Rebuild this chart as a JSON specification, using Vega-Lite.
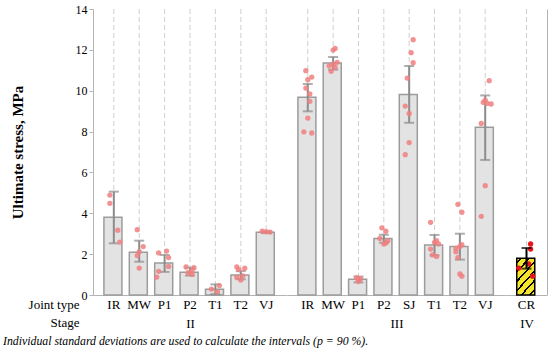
{
  "$schema": "https://vega.github.io/schema/vega-lite/v6.json",
  "padding": {"left": 3, "top": 3, "right": 2, "bottom": 0},
  "spacing": 0,
  "title": {"text": "Individual standard deviations are used to calculate the intervals (p = 90 %).", "orient": "bottom", "anchor": "start", "font": "Liberation Serif", "fontSize": 11.8, "fontStyle": "italic", "fontWeight": "normal", "color": "#000", "offset": 6, "dx": -7},
  "datasets": {
    "bars": [
      {"stage": "II", "joint": "IR", "mean": 3.80, "lo": 2.53, "hi": 5.06},
      {"stage": "II", "joint": "MW", "mean": 2.09, "lo": 1.63, "hi": 2.66},
      {"stage": "II", "joint": "P1", "mean": 1.57, "lo": 1.13, "hi": 1.96},
      {"stage": "II", "joint": "P2", "mean": 1.11, "lo": 0.95, "hi": 1.34},
      {"stage": "II", "joint": "T1", "mean": 0.28, "lo": 0.04, "hi": 0.52},
      {"stage": "II", "joint": "T2", "mean": 0.98, "lo": 0.77, "hi": 1.17},
      {"stage": "II", "joint": "VJ", "mean": 3.07, "lo": 3.03, "hi": 3.11},
      {"stage": "III", "joint": "IR", "mean": 9.68, "lo": 8.99, "hi": 10.33},
      {"stage": "III", "joint": "MW", "mean": 11.36, "lo": 11.03, "hi": 11.65},
      {"stage": "III", "joint": "P1", "mean": 0.77, "lo": 0.62, "hi": 0.90},
      {"stage": "III", "joint": "P2", "mean": 2.77, "lo": 2.56, "hi": 2.95},
      {"stage": "III", "joint": "SJ", "mean": 9.82, "lo": 8.43, "hi": 11.21},
      {"stage": "III", "joint": "T1", "mean": 2.45, "lo": 1.94, "hi": 2.94},
      {"stage": "III", "joint": "T2", "mean": 2.37, "lo": 1.73, "hi": 3.00},
      {"stage": "III", "joint": "VJ", "mean": 8.21, "lo": 6.61, "hi": 9.77},
      {"stage": "IV", "joint": "CR", "mean": 1.80, "lo": 1.29, "hi": 2.30}
    ],
    "pts": [
      {"stage": "II", "joint": "IR", "rep": 3, "v": 4.89},
      {"stage": "II", "joint": "IR", "rep": 3, "v": 4.49},
      {"stage": "II", "joint": "IR", "rep": 7, "v": 3.17},
      {"stage": "II", "joint": "IR", "rep": 8, "v": 2.59},
      {"stage": "II", "joint": "MW", "rep": 4, "v": 3.20},
      {"stage": "II", "joint": "MW", "rep": 7, "v": 2.37},
      {"stage": "II", "joint": "MW", "rep": 5, "v": 2.12},
      {"stage": "II", "joint": "MW", "rep": 4, "v": 1.93},
      {"stage": "II", "joint": "MW", "rep": 5, "v": 1.32},
      {"stage": "II", "joint": "P1", "rep": 2, "v": 2.06},
      {"stage": "II", "joint": "P1", "rep": 6, "v": 2.15},
      {"stage": "II", "joint": "P1", "rep": 7, "v": 1.83},
      {"stage": "II", "joint": "P1", "rep": 7, "v": 1.40},
      {"stage": "II", "joint": "P1", "rep": 2, "v": 1.16},
      {"stage": "II", "joint": "P1", "rep": 1, "v": 0.88},
      {"stage": "II", "joint": "P2", "rep": 3, "v": 1.37},
      {"stage": "II", "joint": "P2", "rep": 7, "v": 1.34},
      {"stage": "II", "joint": "P2", "rep": 6, "v": 1.19},
      {"stage": "II", "joint": "P2", "rep": 4, "v": 1.09},
      {"stage": "II", "joint": "P2", "rep": 6, "v": 1.01},
      {"stage": "II", "joint": "T1", "rep": 7, "v": 0.46},
      {"stage": "II", "joint": "T1", "rep": 3, "v": 0.29},
      {"stage": "II", "joint": "T1", "rep": 6, "v": 0.16},
      {"stage": "II", "joint": "T2", "rep": 3, "v": 1.37},
      {"stage": "II", "joint": "T2", "rep": 7, "v": 1.31},
      {"stage": "II", "joint": "T2", "rep": 4, "v": 1.24},
      {"stage": "II", "joint": "T2", "rep": 6, "v": 0.94},
      {"stage": "II", "joint": "T2", "rep": 3, "v": 0.87},
      {"stage": "II", "joint": "T2", "rep": 5, "v": 0.73},
      {"stage": "II", "joint": "VJ", "rep": 3, "v": 3.12},
      {"stage": "II", "joint": "VJ", "rep": 5, "v": 3.10},
      {"stage": "II", "joint": "VJ", "rep": 7, "v": 3.08},
      {"stage": "III", "joint": "IR", "rep": 4, "v": 10.98},
      {"stage": "III", "joint": "IR", "rep": 5, "v": 10.54},
      {"stage": "III", "joint": "IR", "rep": 7, "v": 10.67},
      {"stage": "III", "joint": "IR", "rep": 4, "v": 10.13},
      {"stage": "III", "joint": "IR", "rep": 6, "v": 9.84},
      {"stage": "III", "joint": "IR", "rep": 6, "v": 9.48},
      {"stage": "III", "joint": "IR", "rep": 5, "v": 8.66},
      {"stage": "III", "joint": "IR", "rep": 3, "v": 7.99},
      {"stage": "III", "joint": "IR", "rep": 7, "v": 7.93},
      {"stage": "III", "joint": "MW", "rep": 6, "v": 12.07},
      {"stage": "III", "joint": "MW", "rep": 5, "v": 11.99},
      {"stage": "III", "joint": "MW", "rep": 7, "v": 11.39},
      {"stage": "III", "joint": "MW", "rep": 3, "v": 11.22},
      {"stage": "III", "joint": "MW", "rep": 5, "v": 11.30},
      {"stage": "III", "joint": "MW", "rep": 6, "v": 11.14},
      {"stage": "III", "joint": "MW", "rep": 4, "v": 10.95},
      {"stage": "III", "joint": "P1", "rep": 4, "v": 0.85},
      {"stage": "III", "joint": "P1", "rep": 6, "v": 0.80},
      {"stage": "III", "joint": "P1", "rep": 5, "v": 0.72},
      {"stage": "III", "joint": "P1", "rep": 5, "v": 0.66},
      {"stage": "III", "joint": "P2", "rep": 4, "v": 3.29},
      {"stage": "III", "joint": "P2", "rep": 6, "v": 3.12},
      {"stage": "III", "joint": "P2", "rep": 3, "v": 2.77},
      {"stage": "III", "joint": "P2", "rep": 7, "v": 2.66},
      {"stage": "III", "joint": "P2", "rep": 5, "v": 2.50},
      {"stage": "III", "joint": "P2", "rep": 6, "v": 2.55},
      {"stage": "III", "joint": "SJ", "rep": 7, "v": 12.50},
      {"stage": "III", "joint": "SJ", "rep": 6, "v": 11.86},
      {"stage": "III", "joint": "SJ", "rep": 7, "v": 11.37},
      {"stage": "III", "joint": "SJ", "rep": 4, "v": 10.62},
      {"stage": "III", "joint": "SJ", "rep": 3, "v": 9.25},
      {"stage": "III", "joint": "SJ", "rep": 5, "v": 8.89},
      {"stage": "III", "joint": "SJ", "rep": 5, "v": 7.46},
      {"stage": "III", "joint": "SJ", "rep": 3, "v": 6.87},
      {"stage": "III", "joint": "T1", "rep": 3, "v": 3.56},
      {"stage": "III", "joint": "T1", "rep": 6, "v": 2.66},
      {"stage": "III", "joint": "T1", "rep": 5, "v": 2.58},
      {"stage": "III", "joint": "T1", "rep": 7, "v": 2.50},
      {"stage": "III", "joint": "T1", "rep": 3, "v": 2.25},
      {"stage": "III", "joint": "T1", "rep": 4, "v": 1.96},
      {"stage": "III", "joint": "T1", "rep": 6, "v": 1.89},
      {"stage": "III", "joint": "T2", "rep": 4, "v": 4.44},
      {"stage": "III", "joint": "T2", "rep": 6, "v": 4.05},
      {"stage": "III", "joint": "T2", "rep": 6, "v": 2.46},
      {"stage": "III", "joint": "T2", "rep": 5, "v": 2.38},
      {"stage": "III", "joint": "T2", "rep": 3, "v": 2.28},
      {"stage": "III", "joint": "T2", "rep": 3, "v": 2.12},
      {"stage": "III", "joint": "T2", "rep": 4, "v": 1.83},
      {"stage": "III", "joint": "T2", "rep": 5, "v": 1.03},
      {"stage": "III", "joint": "T2", "rep": 6, "v": 0.92},
      {"stage": "III", "joint": "VJ", "rep": 7, "v": 10.49},
      {"stage": "III", "joint": "VJ", "rep": 4, "v": 9.43},
      {"stage": "III", "joint": "VJ", "rep": 6, "v": 9.38},
      {"stage": "III", "joint": "VJ", "rep": 8, "v": 9.35},
      {"stage": "III", "joint": "VJ", "rep": 5, "v": 9.54},
      {"stage": "III", "joint": "VJ", "rep": 3, "v": 8.40},
      {"stage": "III", "joint": "VJ", "rep": 5, "v": 5.35},
      {"stage": "III", "joint": "VJ", "rep": 3, "v": 3.85},
      {"stage": "IV", "joint": "CR", "rep": 7, "v": 2.50},
      {"stage": "IV", "joint": "CR", "rep": 7, "v": 2.25},
      {"stage": "IV", "joint": "CR", "rep": 6, "v": 1.52},
      {"stage": "IV", "joint": "CR", "rep": 1, "v": 1.32},
      {"stage": "IV", "joint": "CR", "rep": 8, "v": 0.92}
    ]
  },
  "hconcat": [
    {
      "width": 194,
      "height": 286,
      "layer": [
        {"data": {"name": "bars"}, "transform": [{"filter": "datum.stage === 'II'"}], "mark": {"type": "rule", "color": "#cfcfcf", "strokeDash": [5, 3], "strokeWidth": 1}, "encoding": {"x": {"field": "joint", "type": "nominal", "axis": null}}},
        {"mark": {"type": "rule", "color": "#bdbdbd", "strokeDash": [5, 3], "strokeWidth": 1.3}, "encoding": {"y": {"datum": 2, "type": "quantitative", "axis": null}}},
        {"mark": {"type": "rule", "color": "#bdbdbd", "strokeDash": [5, 3], "strokeWidth": 1.3}, "encoding": {"y": {"datum": 4, "type": "quantitative", "axis": null}}},
        {"mark": {"type": "rule", "color": "#bdbdbd", "strokeDash": [5, 3], "strokeWidth": 1.3}, "encoding": {"y": {"datum": 6, "type": "quantitative", "axis": null}}},
        {"mark": {"type": "rule", "color": "#bdbdbd", "strokeDash": [5, 3], "strokeWidth": 1.3}, "encoding": {"y": {"datum": 8, "type": "quantitative", "axis": null}}},
        {"mark": {"type": "rule", "color": "#bdbdbd", "strokeDash": [5, 3], "strokeWidth": 1.3}, "encoding": {"y": {"datum": 10, "type": "quantitative", "axis": null}}},
        {"mark": {"type": "rule", "color": "#bdbdbd", "strokeDash": [5, 3], "strokeWidth": 1.3}, "encoding": {"y": {"datum": 12, "type": "quantitative", "axis": null}}},
        {"mark": {"type": "rule", "color": "#b0b0b0", "strokeWidth": 1}, "encoding": {"y": {"datum": 14, "type": "quantitative", "axis": null}}},
        {
          "data": {"name": "bars"},
          "transform": [{"filter": "datum.stage === 'II'"}],
          "mark": {"type": "bar", "fill": "#e3e3e3", "stroke": "#9c9c9c", "strokeWidth": 1.5},
          "encoding": {
            "x": {"field": "joint", "type": "nominal", "scale": {"domain": ["IR", "MW", "P1", "P2", "T1", "T2", "VJ"], "paddingInner": 0.22, "paddingOuter": 0.43}, "axis": {"title": "II", "grid": false}},
            "y": {"field": "mean", "type": "quantitative", "scale": {"domain": [0, 14]}, "axis": {"title": "Ultimate stress, MPa", "values": [0, 2, 4, 6, 8, 10, 12, 14], "titlePadding": 50, "titleFontSize": 15, "titleFontWeight": "bold", "labelFontSize": 12, "tickSize": 4, "labelPadding": 2, "grid": false}}
          }
        },
        {
          "data": {"name": "bars"},
          "transform": [{"filter": "datum.stage === 'II'"}],
          "mark": {"type": "errorbar", "ticks": {"size": 10}, "thickness": 2, "color": "#8c8c8c"},
          "encoding": {
            "x": {"field": "joint", "type": "nominal", "axis": null},
            "y": {"field": "lo", "type": "quantitative", "axis": null},
            "y2": {"field": "hi"}
          }
        },
        {
          "data": {"name": "pts"},
          "transform": [{"filter": "datum.stage === 'II'"}],
          "mark": {"type": "circle", "size": 28, "color": "#f07f7f", "opacity": 0.85},
          "encoding": {
            "x": {"field": "joint", "type": "nominal", "axis": null},
            "xOffset": {"field": "rep", "type": "nominal", "scale": {"domain": [1, 2, 3, 4, 5, 6, 7, 8, 9], "paddingInner": 0, "paddingOuter": 3}},
            "y": {"field": "v", "type": "quantitative", "axis": null}
          }
        },
        {
          "data": {"name": "bars"},
          "transform": [{"filter": "datum.stage === 'II'"}],
          "mark": {"type": "point", "opacity": 0},
          "encoding": {
            "x": {"field": "joint", "type": "nominal", "axis": {"orient": "bottom", "title": ["Joint type", "Stage"], "titleX": -14, "titleY": 3, "titleAlign": "right", "titleBaseline": "top", "titleAngle": 0, "titleLineHeight": 18, "labels": false, "ticks": false, "domain": false, "grid": false}},
            "y": {"field": "mean", "type": "quantitative", "axis": null}
          }
        }
      ],
      "resolve": {"axis": {"x": "independent", "y": "independent"}}
    },
    {
      "width": 219,
      "height": 286,
      "layer": [
        {"data": {"name": "bars"}, "transform": [{"filter": "datum.stage === 'III'"}], "mark": {"type": "rule", "color": "#cfcfcf", "strokeDash": [5, 3], "strokeWidth": 1}, "encoding": {"x": {"field": "joint", "type": "nominal", "axis": null}}},
        {"mark": {"type": "rule", "color": "#bdbdbd", "strokeDash": [5, 3], "strokeWidth": 1.3}, "encoding": {"y": {"datum": 2, "type": "quantitative", "axis": null}}},
        {"mark": {"type": "rule", "color": "#bdbdbd", "strokeDash": [5, 3], "strokeWidth": 1.3}, "encoding": {"y": {"datum": 4, "type": "quantitative", "axis": null}}},
        {"mark": {"type": "rule", "color": "#bdbdbd", "strokeDash": [5, 3], "strokeWidth": 1.3}, "encoding": {"y": {"datum": 6, "type": "quantitative", "axis": null}}},
        {"mark": {"type": "rule", "color": "#bdbdbd", "strokeDash": [5, 3], "strokeWidth": 1.3}, "encoding": {"y": {"datum": 8, "type": "quantitative", "axis": null}}},
        {"mark": {"type": "rule", "color": "#bdbdbd", "strokeDash": [5, 3], "strokeWidth": 1.3}, "encoding": {"y": {"datum": 10, "type": "quantitative", "axis": null}}},
        {"mark": {"type": "rule", "color": "#bdbdbd", "strokeDash": [5, 3], "strokeWidth": 1.3}, "encoding": {"y": {"datum": 12, "type": "quantitative", "axis": null}}},
        {"mark": {"type": "rule", "color": "#b0b0b0", "strokeWidth": 1}, "encoding": {"y": {"datum": 14, "type": "quantitative", "axis": null}}},
        {
          "data": {"name": "bars"},
          "transform": [{"filter": "datum.stage === 'III'"}],
          "mark": {"type": "bar", "fill": "#e3e3e3", "stroke": "#9c9c9c", "strokeWidth": 1.5},
          "encoding": {
            "x": {"field": "joint", "type": "nominal", "scale": {"domain": ["IR", "MW", "P1", "P2", "SJ", "T1", "T2", "VJ"], "paddingInner": 0.22, "paddingOuter": 0.43}, "axis": {"title": "III", "grid": false}},
            "y": {"field": "mean", "type": "quantitative", "scale": {"domain": [0, 14]}, "axis": null}
          }
        },
        {
          "data": {"name": "bars"},
          "transform": [{"filter": "datum.stage === 'III'"}],
          "mark": {"type": "errorbar", "ticks": {"size": 10}, "thickness": 2, "color": "#8c8c8c"},
          "encoding": {
            "x": {"field": "joint", "type": "nominal", "axis": null},
            "y": {"field": "lo", "type": "quantitative", "axis": null},
            "y2": {"field": "hi"}
          }
        },
        {
          "data": {"name": "pts"},
          "transform": [{"filter": "datum.stage === 'III'"}],
          "mark": {"type": "circle", "size": 28, "color": "#f07f7f", "opacity": 0.85},
          "encoding": {
            "x": {"field": "joint", "type": "nominal", "axis": null},
            "xOffset": {"field": "rep", "type": "nominal", "scale": {"domain": [1, 2, 3, 4, 5, 6, 7, 8, 9], "paddingInner": 0, "paddingOuter": 3}},
            "y": {"field": "v", "type": "quantitative", "axis": null}
          }
        }
      ],
      "resolve": {"axis": {"x": "independent", "y": "independent"}}
    },
    {
      "width": 41,
      "height": 286,
      "layer": [
        {"data": {"name": "bars"}, "transform": [{"filter": "datum.stage === 'IV'"}], "mark": {"type": "rule", "color": "#cfcfcf", "strokeDash": [5, 3], "strokeWidth": 1}, "encoding": {"x": {"field": "joint", "type": "nominal", "axis": null}}},
        {"mark": {"type": "rule", "color": "#bdbdbd", "strokeDash": [5, 3], "strokeWidth": 1.3}, "encoding": {"y": {"datum": 2, "type": "quantitative", "axis": null}}},
        {"mark": {"type": "rule", "color": "#bdbdbd", "strokeDash": [5, 3], "strokeWidth": 1.3}, "encoding": {"y": {"datum": 4, "type": "quantitative", "axis": null}}},
        {"mark": {"type": "rule", "color": "#bdbdbd", "strokeDash": [5, 3], "strokeWidth": 1.3}, "encoding": {"y": {"datum": 6, "type": "quantitative", "axis": null}}},
        {"mark": {"type": "rule", "color": "#bdbdbd", "strokeDash": [5, 3], "strokeWidth": 1.3}, "encoding": {"y": {"datum": 8, "type": "quantitative", "axis": null}}},
        {"mark": {"type": "rule", "color": "#bdbdbd", "strokeDash": [5, 3], "strokeWidth": 1.3}, "encoding": {"y": {"datum": 10, "type": "quantitative", "axis": null}}},
        {"mark": {"type": "rule", "color": "#bdbdbd", "strokeDash": [5, 3], "strokeWidth": 1.3}, "encoding": {"y": {"datum": 12, "type": "quantitative", "axis": null}}},
        {"mark": {"type": "rule", "color": "#b0b0b0", "strokeWidth": 1}, "encoding": {"y": {"datum": 14, "type": "quantitative", "axis": null}}},
        {
          "data": {"name": "bars"},
          "transform": [{"filter": "datum.stage === 'IV'"}],
          "mark": {"type": "bar", "stroke": "#000000", "strokeWidth": 1.5, "fill": {"gradient": "linear", "x1": 0, "y1": 0, "x2": 0.645, "y2": 1.19, "stops": [
            {"offset": 0, "color": "#f4e52c"},
            {"offset": 0.06, "color": "#f4e52c"}, {"offset": 0.06, "color": "#000000"}, {"offset": 0.1, "color": "#000000"}, {"offset": 0.1, "color": "#f4e52c"},
            {"offset": 0.225, "color": "#f4e52c"}, {"offset": 0.225, "color": "#000000"}, {"offset": 0.265, "color": "#000000"}, {"offset": 0.265, "color": "#f4e52c"},
            {"offset": 0.39, "color": "#f4e52c"}, {"offset": 0.39, "color": "#000000"}, {"offset": 0.43, "color": "#000000"}, {"offset": 0.43, "color": "#f4e52c"},
            {"offset": 0.555, "color": "#f4e52c"}, {"offset": 0.555, "color": "#000000"}, {"offset": 0.595, "color": "#000000"}, {"offset": 0.595, "color": "#f4e52c"},
            {"offset": 0.72, "color": "#f4e52c"}, {"offset": 0.72, "color": "#000000"}, {"offset": 0.76, "color": "#000000"}, {"offset": 0.76, "color": "#f4e52c"},
            {"offset": 0.885, "color": "#f4e52c"}, {"offset": 0.885, "color": "#000000"}, {"offset": 0.925, "color": "#000000"}, {"offset": 0.925, "color": "#f4e52c"},
            {"offset": 1, "color": "#f4e52c"}
          ]}},
          "encoding": {
            "x": {"field": "joint", "type": "nominal", "scale": {"domain": ["CR"], "paddingInner": 0.22, "paddingOuter": 0.43}, "axis": {"title": "IV", "grid": false}},
            "y": {"field": "mean", "type": "quantitative", "scale": {"domain": [0, 14]}, "axis": {"orient": "right", "title": null, "labels": false, "ticks": false, "domain": true, "grid": false}}
          }
        },
        {
          "data": {"name": "pts"},
          "transform": [{"filter": "datum.stage === 'IV'"}],
          "mark": {"type": "circle", "size": 28, "color": "#e8141c", "opacity": 1},
          "encoding": {
            "x": {"field": "joint", "type": "nominal", "axis": null},
            "xOffset": {"field": "rep", "type": "nominal", "scale": {"domain": [1, 2, 3, 4, 5, 6, 7, 8, 9], "paddingInner": 0, "paddingOuter": 3}},
            "y": {"field": "v", "type": "quantitative", "axis": null}
          }
        },
        {
          "data": {"name": "bars"},
          "transform": [{"filter": "datum.stage === 'IV'"}],
          "mark": {"type": "errorbar", "ticks": {"size": 10}, "thickness": 2, "color": "#000000"},
          "encoding": {
            "x": {"field": "joint", "type": "nominal", "axis": null},
            "y": {"field": "lo", "type": "quantitative", "axis": null},
            "y2": {"field": "hi"}
          }
        }
      ],
      "resolve": {"axis": {"x": "independent", "y": "independent"}}
    }
  ],
  "config": {
    "font": "Liberation Serif",
    "view": {"stroke": null},
    "axis": {"labelFont": "Liberation Serif", "titleFont": "Liberation Serif", "labelColor": "#000000", "titleColor": "#000000", "domainColor": "#b3b3b3", "tickColor": "#b3b3b3", "grid": false},
    "axisX": {"labelFontSize": 13, "labelAngle": 0, "ticks": false, "tickSize": 0, "labelPadding": 3, "titleFontSize": 13, "titleFontWeight": "normal", "titlePadding": 6}
  }
}
